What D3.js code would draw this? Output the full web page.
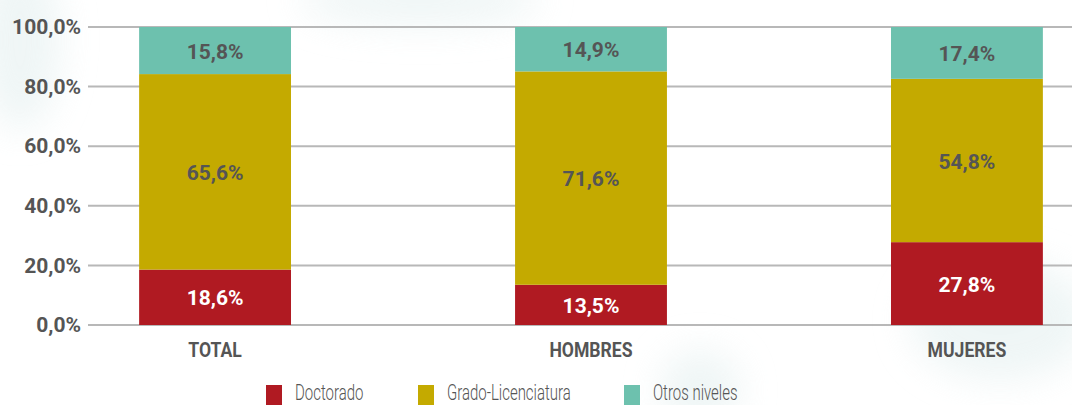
<!DOCTYPE html>
<html>
<head>
<meta charset="utf-8">
<script src="https://cdn.jsdelivr.net/npm/d3@7"></script>
<style>
  body { margin: 0; background: #fff; }
  svg text { font-family: Roboto, "Noto Sans", sans-serif; }
</style>
</head>
<body>
<div id="chart"></div>
<script>
const categories = ["TOTAL", "HOMBRES", "MUJERES"];
const seriesNames = ["Doctorado", "Grado-Licenciatura", "Otros niveles"];
const doctorado = [18.6, 13.5, 27.8];
const grado = [65.6, 71.6, 54.8];
const otros = [15.8, 14.9, 17.4];
const yTicks = [0, 20, 40, 60, 80, 100];

const width = 1072, height = 405;
const colors = ["#b01a22", "#c4aa00", "#6dc1ae"];

const svg = d3.select("#chart")
    .append("svg")
        .attr("width", width)
        .attr("height", height);

// faint watermark blobs in the background
const defs = svg.append("defs");
defs.append("filter").attr("id", "blur")
    .append("feGaussianBlur").attr("stdDeviation", 18);
const blobs = svg.append("g").attr("filter", "url(#blur)").attr("fill", "#e8f2f2").attr("opacity", 0.7);
blobs.append("ellipse").attr("cx", 20).attr("cy", 40).attr("rx", 40).attr("ry", 90);
blobs.append("ellipse").attr("cx", 420).attr("cy", 0).attr("rx", 120).attr("ry", 25);
blobs.append("ellipse").attr("cx", 1000).attr("cy", 320).attr("rx", 90).attr("ry", 60);
blobs.append("ellipse").attr("cx", 700).attr("cy", 390).attr("rx", 40).attr("ry", 40);

const x = d3.scaleBand()
    .domain(categories)
    .range([88, 1094])
    .paddingInner(0.596)
    .paddingOuter(0.136);

const y = d3.scaleLinear()
    .domain([0, 100])
    .range([325, 27]);

// gridlines
svg.append("g")
    .selectAll("line")
    .data(yTicks)
    .enter()
    .append("line")
        .attr("x1", 88)
        .attr("x2", width)
        .attr("y1", d => y(d))
        .attr("y2", d => y(d))
        .attr("stroke", "#b8b8b8")
        .attr("stroke-width", 2);

// y axis labels
const yAxis = svg.append("g")
    .attr("transform", "translate(81,0)")
    .call(d3.axisLeft(y).tickValues(yTicks).tickSize(0).tickPadding(0)
        .tickFormat(d => d.toFixed(1).replace(".", ",") + "%"));
yAxis.select(".domain").remove();
yAxis.selectAll("text")
    .attr("font-size", 21)
    .attr("font-weight", "bold")
    .attr("fill", "#555")
    .attr("font-family", "Roboto, sans-serif");

// stacked data
const rows = categories.map((c, i) => ({
    cat: c,
    "Doctorado": doctorado[i],
    "Grado-Licenciatura": grado[i],
    "Otros niveles": otros[i]
}));
const stack = d3.stack().keys(seriesNames);
const layers = stack(rows);

const layerG = svg.append("g")
    .selectAll("g")
    .data(layers)
    .enter()
    .append("g")
        .attr("fill", (d, i) => colors[i]);

layerG.selectAll("rect")
    .data(d => d)
    .enter()
    .append("rect")
        .attr("x", d => x(d.data.cat))
        .attr("width", x.bandwidth())
        .attr("y", d => y(d[1]))
        .attr("height", d => y(d[0]) - y(d[1]));

layerG.each(function(layer, li) {
    d3.select(this).selectAll("text")
        .data(layer)
        .enter()
        .append("text")
            .attr("x", d => x(d.data.cat) + x.bandwidth() / 2)
            .attr("y", d => (y(d[0]) + y(d[1])) / 2 + 8)
            .attr("text-anchor", "middle")
            .attr("font-size", 21)
            .attr("font-weight", "bold")
            .attr("fill", li === 0 ? "#fff" : "#555")
            .text(d => d.data[layer.key].toFixed(1).replace(".", ",") + "%");
});

// category labels
svg.append("g")
    .selectAll("text")
    .data(categories)
    .enter()
    .append("text")
        .attr("transform", d => "translate(" + (x(d) + x.bandwidth() / 2) + ",357) scale(0.88,1)")
        .attr("text-anchor", "middle")
        .attr("font-size", 20)
        .attr("font-weight", "bold")
        .attr("fill", "#555")
        .text(d => d);

// legend
const legendX = [266, 418, 624];
const legend = svg.append("g")
    .selectAll("g")
    .data(seriesNames)
    .enter()
    .append("g")
        .attr("transform", (d, i) => "translate(" + legendX[i] + ",385)");
legend.append("rect")
    .attr("width", 16)
    .attr("height", 20)
    .attr("fill", (d, i) => colors[i]);
legend.append("text")
    .attr("transform", "translate(29,15) scale(0.68,1)")
    .attr("font-size", 22)
    .attr("font-weight", 300)
    .attr("fill", "#555")
    .text(d => d);
</script>
</body>
</html>
